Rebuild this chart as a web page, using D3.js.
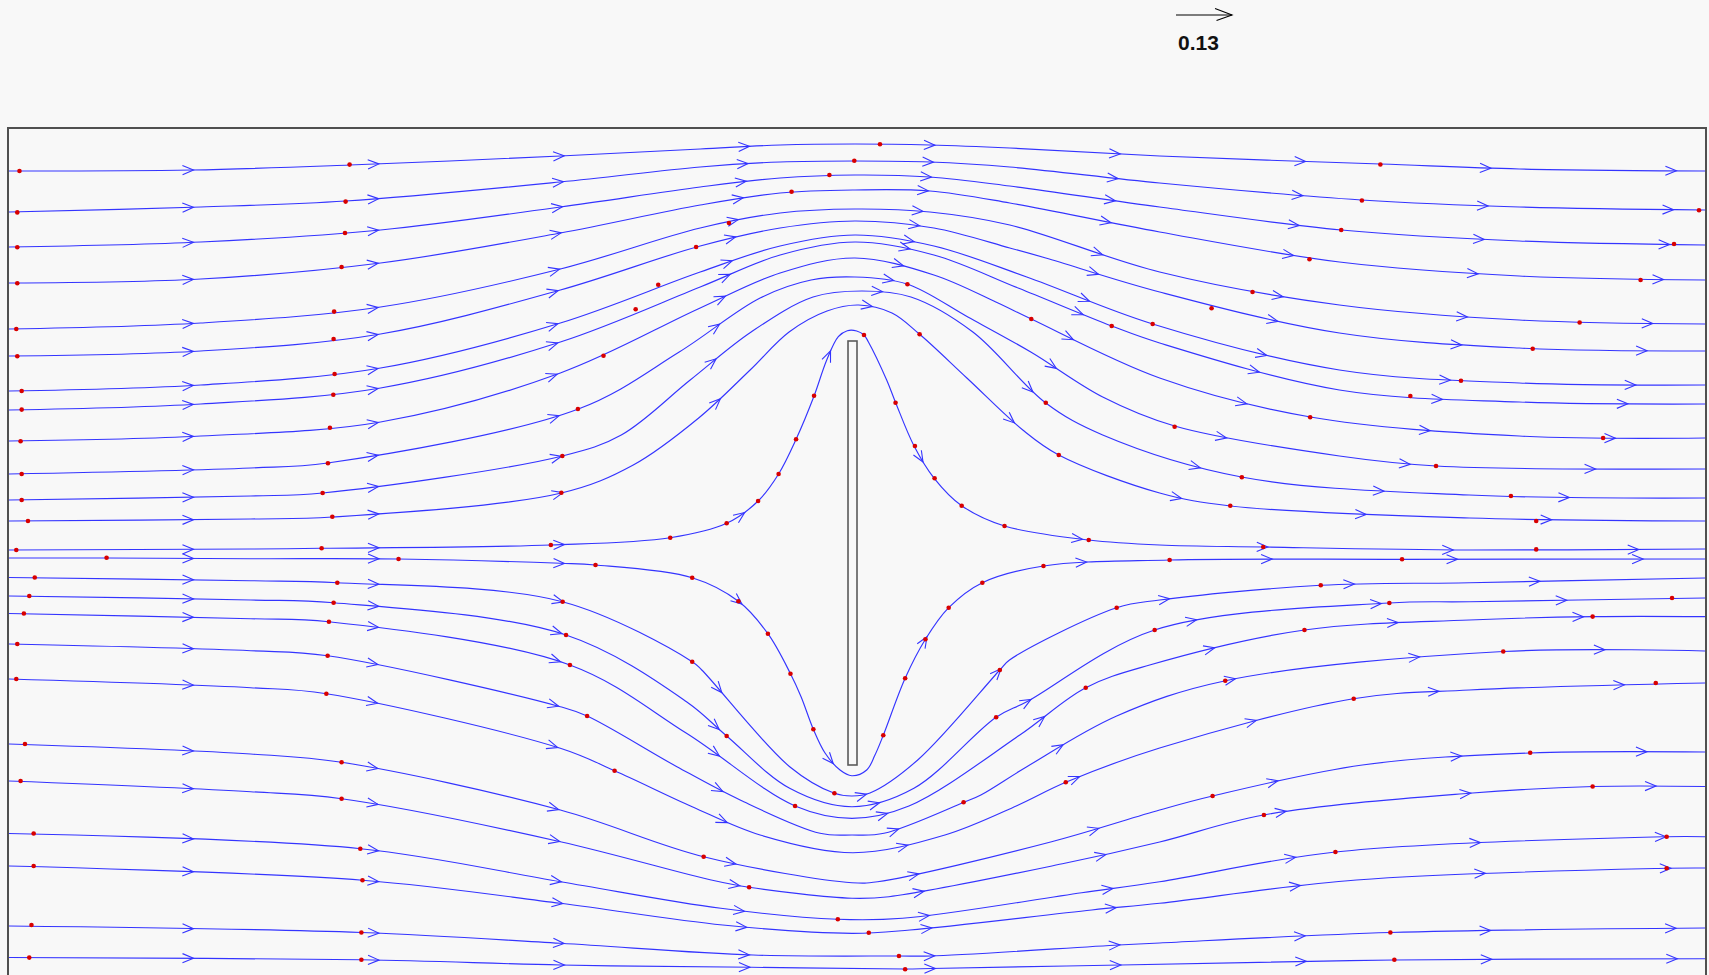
<!DOCTYPE html>
<html>
<head>
<meta charset="utf-8">
<script src="https://cdn.jsdelivr.net/npm/d3@7"></script>
<style>
  html, body { margin: 0; padding: 0; background: #f8f8f8; }
  svg { display: block; }
</style>
</head>
<body>
<svg id="chart" width="1709" height="975"></svg>
<script>
// Flow past a flat plate held normal to the stream: streamlines, time markers and direction arrows.
// Coordinates are in domain units (x along the stream, y across it).

const xDomain = [-8.5, 8.5];
const yDomain = [-4.25, 4.25];

// Plate outline (x from, x to, y from, y to)
const plateX = [-0.09, 0.0];
const plateY = [-2.12, 2.12];

// Reference speed shown by the legend arrow
const referenceSpeed = 0.13;
const speedUnitLength = 431; // arrow length in px for a speed of 1

// Streamlines passing above the plate (top to bottom)
const upper01 = [[-8.49,3.82],[-6.66,3.83],[-5.08,3.88],[-2.97,3.97],[-1.57,4.04],[-0.77,4.08],[-0.02,4.09],[0.73,4.08],[1.53,4.05],[3.03,3.97],[5.24,3.89],[6.63,3.84],[8.49,3.82]];
const upper02 = [[-8.49,3.41],[-6.57,3.46],[-5.12,3.52],[-2.97,3.71],[-1.57,3.86],[-0.77,3.91],[-0.02,3.92],[0.73,3.91],[1.53,3.86],[3.03,3.70],[5.05,3.53],[6.63,3.46],[8.49,3.43]];
const upper03 = [[-8.49,3.06],[-6.57,3.11],[-4.77,3.23],[-2.97,3.46],[-1.57,3.66],[-0.77,3.75],[-0.02,3.78],[0.73,3.76],[1.53,3.67],[3.03,3.46],[4.85,3.23],[6.63,3.12],[8.49,3.08]];
const upper04 = [[-8.49,2.70],[-6.57,2.74],[-4.77,2.90],[-2.97,3.20],[-1.57,3.48],[-0.77,3.60],[-0.02,3.63],[0.73,3.62],[1.53,3.50],[3.03,3.21],[4.83,2.91],[6.63,2.77],[8.49,2.73]];
const upper05 = [[-8.49,2.24],[-6.57,2.30],[-4.77,2.46],[-2.97,2.84],[-1.57,3.25],[-0.77,3.40],[-0.02,3.44],[0.73,3.41],[1.53,3.28],[3.03,2.81],[4.83,2.48],[6.63,2.33],[8.49,2.29]];
const upper06 = [[-8.49,1.97],[-6.57,2.02],[-4.77,2.19],[-2.97,2.63],[-1.57,3.07],[-0.77,3.25],[-0.02,3.32],[0.77,3.25],[1.53,3.05],[1.89,2.95],[3.03,2.61],[4.83,2.20],[6.63,2.05],[8.49,2.02]];
const upper07 = [[-8.49,1.62],[-6.57,1.68],[-4.77,1.85],[-2.97,2.30],[-1.57,2.81],[-0.77,3.07],[-0.02,3.18],[0.77,3.07],[1.70,2.76],[2.96,2.29],[4.83,1.83],[6.63,1.70],[8.49,1.68]];
const upper08 = [[-8.49,1.43],[-6.57,1.49],[-4.77,1.65],[-2.97,2.11],[-1.57,2.66],[-0.77,2.98],[-0.02,3.11],[0.77,2.98],[1.62,2.647],[2.55,2.27],[3.03,2.10],[4.83,1.63],[6.63,1.51],[8.49,1.49]];
const upper09 = [[-8.49,1.12],[-6.57,1.17],[-4.77,1.31],[-2.97,1.80],[-1.57,2.45],[-0.77,2.80],[-0.02,2.95],[0.77,2.78],[1.39,2.51],[1.745,2.34],[3.03,1.75],[4.54,1.36],[6.63,1.17],[8.49,1.15]];
const upper10 = [[-8.49,0.79],[-6.07,0.85],[-5.30,0.90],[-2.79,1.44],[-1.78,2.01],[-0.97,2.55],[-0.46,2.73],[-0.02,2.76],[0.50,2.69],[1.11,2.36],[1.74,2.01],[2.46,1.56],[3.18,1.27],[4.83,0.97],[5.80,0.87],[8.49,0.84]];
const upper11 = [[-8.49,0.53],[-6.07,0.57],[-5.35,0.60],[-2.95,0.97],[-2.36,1.18],[-1.67,1.73],[-1.06,2.21],[-0.44,2.56],[0.05,2.62],[0.54,2.56],[1.16,2.21],[1.89,1.50],[2.46,1.18],[3.85,0.76],[6.13,0.58],[8.49,0.55]];
const upper12 = [[-8.49,0.32],[-6.07,0.34],[-5.25,0.36],[-2.96,0.60],[-2.24,0.88],[-1.585,1.35],[-1.07,1.83],[-0.68,2.21],[-0.30,2.42],[0.015,2.48],[0.35,2.40],[0.627,2.187],[1.10,1.75],[1.66,1.23],[2.02,0.98],[3.03,0.60],[3.74,0.47],[6.13,0.35],[8.49,0.32]];
const upper13 = [[-8.49,0.03],[-6.07,0.04],[-5.36,0.047],[-3.065,0.08],[-1.87,0.153],[-1.305,0.297],[-0.99,0.52],[-0.785,0.79],[-0.61,1.137],[-0.43,1.57],[-0.303,1.93],[-0.187,2.163],[-0.097,2.223],[-0.003,2.22],[0.07,2.18],[0.113,2.113],[0.297,1.73],[0.387,1.503],[0.57,1.073],[0.773,0.747],[1.048,0.473],[1.477,0.27],[2.32,0.13],[3.03,0.08],[4.07,0.06],[6.13,0.03],[8.49,0.04]];

// Streamlines passing below the plate (top to bottom)
const lower01 = [[-8.49,-0.05],[-7.51,-0.05],[-6.07,-0.057],[-4.59,-0.06],[-2.97,-0.103],[-2.62,-0.12],[-1.65,-0.247],[-1.187,-0.483],[-0.892,-0.807],[-0.666,-1.207],[-0.56,-1.437],[-0.437,-1.763],[-0.32,-2.0],[-0.17,-2.17],[-0.053,-2.227],[0.097,-2.17],[0.18,-2.02],[0.263,-1.823],[0.482,-1.253],[0.685,-0.863],[0.918,-0.547],[1.255,-0.297],[1.867,-0.13],[3.13,-0.07],[5.45,-0.063],[8.49,-0.06]];
const lower02 = [[-8.49,-0.245],[-6.07,-0.277],[-5.20,-0.297],[-2.95,-0.487],[-1.65,-1.087],[-1.554,-1.17],[-0.674,-2.137],[-0.226,-2.403],[-0.05,-2.43],[0.13,-2.40],[0.608,-2.07],[1.43,-1.17],[1.527,-1.07],[2.60,-0.547],[3.03,-0.47],[4.64,-0.323],[6.13,-0.297],[8.49,-0.25]];
const lower03 = [[-8.49,-0.43],[-6.07,-0.47],[-5.24,-0.497],[-2.913,-0.82],[-1.707,-1.487],[-1.305,-1.83],[-0.674,-2.353],[-0.05,-2.537],[0.57,-2.353],[1.393,-1.643],[1.70,-1.487],[2.98,-0.77],[5.33,-0.50],[6.13,-0.487],[8.49,-0.45]];
const lower04 = [[-8.49,-0.605],[-6.07,-0.657],[-5.29,-0.687],[-2.874,-1.12],[-1.707,-1.803],[-0.62,-2.53],[-0.05,-2.653],[0.52,-2.53],[1.63,-1.82],[2.29,-1.347],[2.93,-1.12],[4.48,-0.77],[6.13,-0.67],[7.37,-0.636],[8.49,-0.636]];
const lower05 = [[-8.49,-0.91],[-6.07,-0.977],[-5.30,-1.027],[-2.97,-1.537],[-2.702,-1.63],[-1.803,-2.137],[-1.17,-2.47],[-0.37,-2.803],[-0.05,-2.82],[0.27,-2.803],[1.07,-2.493],[1.24,-2.42],[1.70,-2.137],[2.60,-1.63],[3.69,-1.277],[6.47,-0.985],[8.49,-0.98]];
const lower06 = [[-8.49,-1.26],[-6.07,-1.347],[-5.313,-1.407],[-2.97,-1.953],[-2.427,-2.177],[-1.65,-2.537],[-0.97,-2.82],[-0.04,-2.997],[0.88,-2.82],[1.60,-2.527],[2.09,-2.293],[3.03,-1.95],[4.97,-1.457],[6.13,-1.37],[8.49,-1.30]];
const lower07 = [[-8.49,-1.91],[-6.07,-2.01],[-5.16,-2.093],[-2.97,-2.57],[-1.535,-3.037],[-0.05,-3.297],[0.206,-3.287],[1.948,-2.887],[3.03,-2.57],[3.56,-2.43],[5.06,-2.12],[6.74,-2.00],[8.49,-1.99]];
const lower08 = [[-8.49,-2.28],[-6.07,-2.387],[-5.16,-2.457],[-2.97,-2.887],[-1.46,-3.27],[-1.08,-3.343],[-0.05,-3.453],[0.32,-3.437],[2.08,-3.103],[3.03,-2.89],[4.07,-2.62],[6.13,-2.403],[7.37,-2.335],[8.49,-2.335]];
const lower09 = [[-8.49,-2.805],[-4.97,-2.957],[-2.97,-3.287],[-1.363,-3.553],[-0.192,-3.663],[0.455,-3.653],[2.25,-3.397],[3.03,-3.287],[4.79,-2.99],[8.10,-2.837],[8.49,-2.837]];
const lower10 = [[-8.49,-3.13],[-4.95,-3.272],[-2.97,-3.503],[-1.344,-3.72],[-0.05,-3.803],[0.53,-3.77],[2.35,-3.57],[3.03,-3.503],[5.0,-3.27],[8.10,-3.153],[8.49,-3.15]];
const lower11 = [[-8.49,-3.73],[-4.96,-3.795],[-2.97,-3.903],[-1.04,-4.02],[0.42,-4.03],[0.74,-4.03],[2.62,-3.92],[3.03,-3.90],[5.34,-3.795],[8.49,-3.75]];
const lower12 = [[-8.49,-4.045],[-4.96,-4.068],[-2.97,-4.12],[-1.056,-4.143],[0.482,-4.16],[0.74,-4.155],[2.64,-4.12],[5.38,-4.07],[8.49,-4.057]];

const streamlines = [
  upper01, upper02, upper03, upper04, upper05, upper06, upper07, upper08, upper09, upper10, upper11, upper12, upper13,
  lower01, lower02, lower03, lower04, lower05, lower06, lower07, lower08, lower09, lower10, lower11, lower12
];

// Equal-time particle markers
const markerPoints = [
  [-8.385,3.82],[-5.08,3.884],[0.23,4.087],[5.24,3.885],
  [-8.407,3.406],[-5.12,3.514],[-0.027,3.923],[5.055,3.525],[8.43,3.427],
  [-8.407,3.057],[-5.126,3.20],[-0.276,3.78],[4.848,3.23],[8.18,3.09],
  [-8.407,2.698],[-5.16,2.86],[-0.655,3.613],[4.53,2.937],[7.845,2.73],
  [-8.417,2.24],[-5.235,2.414],[-1.282,3.30],[3.96,2.61],[7.235,2.305],
  [-8.407,1.968],[-5.24,2.14],[-1.611,3.06],[3.55,2.447],[6.765,2.043],
  [-8.363,1.62],[-5.23,1.79],[-1.99,2.683],[2.96,2.29],[6.047,1.723],
  [-8.363,1.434],[-5.243,1.583],[-2.216,2.437],[2.55,2.27],[5.54,1.57],
  [-8.374,1.118],[-5.277,1.253],[-2.538,1.973],[1.745,2.34],[4.537,1.357],[7.47,1.15],
  [-8.363,0.79],[-5.297,0.897],[-2.794,1.44],[0.505,2.687],[3.18,1.263],[5.797,0.87],
  [-8.363,0.53],[-5.35,0.60],[-2.95,0.97],[1.89,1.503],[3.853,0.757],[6.547,0.57],
  [-8.30,0.32],[-5.253,0.363],[-2.96,0.603],[0.627,2.187],[2.02,0.98],[3.737,0.473],[6.80,0.32],
  [-8.417,0.03],[-5.36,0.047],[-3.065,0.08],[-1.87,0.153],[-1.305,0.297],[-0.99,0.52],[-0.785,0.79],[-0.61,1.137],[-0.43,1.573],
  [0.07,2.18],[0.386,1.503],[0.58,1.07],[0.777,0.747],[1.048,0.473],[1.477,0.27],[2.32,0.13],[4.067,0.06],[6.80,0.036],
  [-7.513,-0.048],[-4.59,-0.06],[-2.618,-0.12],[-1.65,-0.247],[-1.187,-0.483],[-0.892,-0.807],[-0.666,-1.207],[-0.437,-1.763],
  [0.263,-1.823],[0.482,-1.253],[0.685,-0.863],[0.918,-0.547],[1.255,-0.297],[1.867,-0.13],[3.13,-0.07],[5.457,-0.063],
  [-8.232,-0.245],[-5.203,-0.297],[-2.947,-0.487],[-1.65,-1.087],[-0.226,-2.403],[1.43,-1.17],[2.60,-0.547],[4.643,-0.323],
  [-8.287,-0.43],[-5.24,-0.497],[-2.913,-0.82],[-1.305,-1.83],[1.393,-1.643],[2.98,-0.77],[5.33,-0.50],[8.16,-0.45],
  [-8.341,-0.605],[-5.287,-0.687],[-2.874,-1.12],[-0.62,-2.53],[2.29,-1.347],[4.48,-0.77],[7.365,-0.636],
  [-8.407,-0.91],[-5.30,-1.027],[-2.702,-1.63],[1.067,-2.493],[3.687,-1.277],[6.47,-0.985],
  [-8.417,-1.26],[-5.313,-1.407],[-2.427,-2.177],[2.09,-2.293],[4.973,-1.457],[7.997,-1.30],
  [-8.33,-1.91],[-5.16,-2.093],[-1.535,-3.037],[3.56,-2.43],[6.74,-1.998],
  [-8.374,-2.28],[-5.16,-2.457],[-1.08,-3.343],[4.074,-2.62],[7.365,-2.335],
  [-8.243,-2.805],[-4.973,-2.957],[-0.192,-3.663],[4.79,-2.99],[8.106,-2.837],
  [-8.243,-3.13],[-4.951,-3.272],[0.118,-3.797],[8.106,-3.153],
  [-8.265,-3.72],[-4.962,-3.795],[0.42,-4.03],[5.34,-3.795],
  [-8.287,-4.046],[-4.962,-4.068],[0.482,-4.163],[5.38,-4.068]
];

// ---- drawing ----
const svg = d3.select("#chart");
const frame = { left: 8, right: 1706, top: 128, bottom: 978 };

const x = d3.scaleLinear().domain(xDomain).range([frame.left, frame.right]);
const y = d3.scaleLinear().domain(yDomain).range([frame.bottom, frame.top]);

const streamColor = "#3434ff";
const markerColor = "#d80000";
const frameColor = "#505050";

svg.append("rect").attr("width", 1709).attr("height", 975).attr("fill", "#f8f8f8");

svg.append("defs").append("clipPath").attr("id", "plotArea")
  .append("rect")
  .attr("x", x(xDomain[0])).attr("y", y(yDomain[1]))
  .attr("width", x(xDomain[1]) - x(xDomain[0]))
  .attr("height", y(yDomain[0]) - y(yDomain[1]));

const plot = svg.append("g").attr("clip-path", "url(#plotArea)");

const streamPath = d3.line()
  .x(d => x(d[0]))
  .y(d => y(d[1]))
  .curve(d3.curveCatmullRom.alpha(0.5));

const paths = plot.append("g").attr("class", "streamlines")
  .selectAll("path")
  .data(streamlines)
  .join("path")
  .attr("d", streamPath)
  .attr("fill", "none")
  .attr("stroke", streamColor)
  .attr("stroke-width", 1.15);

// direction chevrons at regular spacing along each streamline
const arrowSpacing = 185.5, arrowLen = 11, arrowHalf = 4.6;
const arrowLayer = plot.append("g").attr("class", "arrows");
paths.each(function () {
  const total = this.getTotalLength();
  for (let s = arrowSpacing - 1; s < total - 6; s += arrowSpacing) {
    const p = this.getPointAtLength(s);
    const q = this.getPointAtLength(Math.max(0, s - 3));
    let dx = p.x - q.x, dy = p.y - q.y;
    const n = Math.hypot(dx, dy) || 1;
    dx /= n; dy /= n;
    const bx = p.x - dx * arrowLen, by = p.y - dy * arrowLen;
    arrowLayer.append("path")
      .attr("d", `M${bx - dy * arrowHalf},${by + dx * arrowHalf}L${p.x},${p.y}L${bx + dy * arrowHalf},${by - dx * arrowHalf}`)
      .attr("fill", "none")
      .attr("stroke", streamColor)
      .attr("stroke-width", 1.1);
  }
});

plot.append("g").attr("class", "markers")
  .selectAll("circle")
  .data(markerPoints)
  .join("circle")
  .attr("cx", d => x(d[0]))
  .attr("cy", d => y(d[1]))
  .attr("r", 2.3)
  .attr("fill", markerColor);

// the plate
svg.append("rect")
  .attr("x", x(plateX[0])).attr("y", y(plateY[1]))
  .attr("width", x(plateX[1]) - x(plateX[0]))
  .attr("height", y(plateY[0]) - y(plateY[1]))
  .attr("fill", "#f8f8f8")
  .attr("stroke", "#5a5a5a")
  .attr("stroke-width", 1.6);

// frame
svg.append("rect")
  .attr("x", x(xDomain[0])).attr("y", y(yDomain[1]))
  .attr("width", x(xDomain[1]) - x(xDomain[0]))
  .attr("height", y(yDomain[0]) - y(yDomain[1]))
  .attr("fill", "none")
  .attr("stroke", frameColor)
  .attr("stroke-width", 2);

// reference vector legend
const legendLen = referenceSpeed * speedUnitLength;
const legendX0 = 1176, legendY = 15;
const legend = svg.append("g").attr("class", "legend");
legend.append("line")
  .attr("x1", legendX0).attr("y1", legendY)
  .attr("x2", legendX0 + legendLen).attr("y2", legendY)
  .attr("stroke", "#000").attr("stroke-width", 1.1);
legend.append("path")
  .attr("d", `M${legendX0 + legendLen - 17},${legendY - 6.5}L${legendX0 + legendLen},${legendY}L${legendX0 + legendLen - 15.5},${legendY + 5.5}`)
  .attr("fill", "none").attr("stroke", "#000").attr("stroke-width", 1.1);
legend.append("text")
  .attr("x", legendX0 + legendLen / 2 - 5.5)
  .attr("y", 50)
  .attr("text-anchor", "middle")
  .attr("font-family", "'Liberation Sans', Arial, sans-serif")
  .attr("font-weight", "bold")
  .attr("font-size", 21)
  .attr("fill", "#111")
  .text(d3.format(".2f")(referenceSpeed));
</script>
</body>
</html>
